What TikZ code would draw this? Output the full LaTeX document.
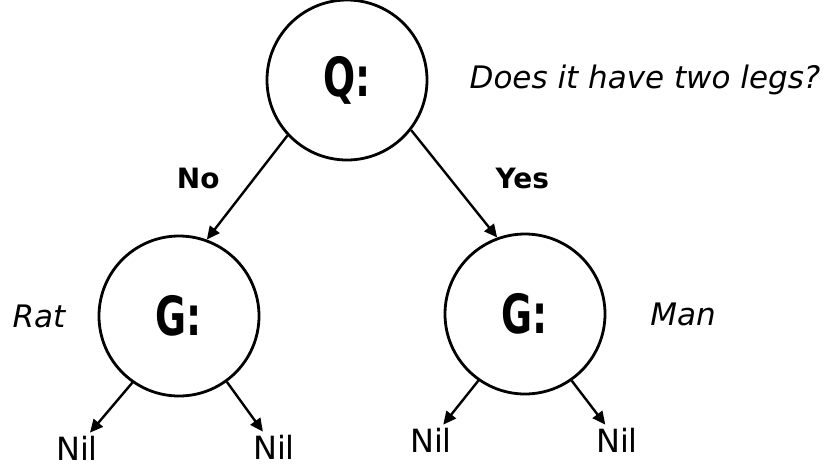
\documentclass[tikz,border=0pt]{standalone}
\usepackage{fontspec}
\usepackage{graphicx}
\setmainfont{DejaVu Sans}
\usetikzlibrary{arrows.meta,positioning}

\begin{document}
\begin{tikzpicture}[x=1pt,y=1pt,on grid,auto,line width=2.4pt,
    >={Triangle[length=13pt,width=12pt]},
    tnode/.style={circle, draw, line width=2.8pt, minimum size=160pt, inner sep=0pt,
      font=\fontsize{54}{54}\selectfont\bfseries},
    leaf/.style={inner sep=2pt, font=\fontsize{32}{32}\selectfont},
    note/.style={font=\fontsize{31}{31}\selectfont\itshape},
    ans/.style={font=\fontsize{28}{28}\selectfont\bfseries}]
   \useasboundingbox (0,0) rectangle (837,-467);

   \node[tnode] (q) at (347,-80) {\scalebox{0.7}[1]{Q:}};
   \node[tnode] (gl) [below left=236pt and 168pt of q]  {\scalebox{0.7}[1]{G:}};
   \node[tnode] (gr) [below right=234pt and 178pt of q] {\scalebox{0.7}[1]{G:}};

   \node[note] (legs) [right=298pt of q]  {Does it have two legs?};
   \node[note] (rat)  [left=140pt of gl]  {Rat};
   \node[note] (man)  [right=158pt of gr] {Man};

   \node[leaf] (nil_1) [below left=132pt and 102pt of gl]  {Nil};
   \node[leaf] (nil_2) [below right=131pt and 95pt of gl]  {Nil};
   \node[leaf] (nil_3) [below left=126pt and 94pt of gr]   {Nil};
   \node[leaf] (nil_4) [below right=126pt and 92pt of gr]  {Nil};

    \path[->]
    (q.223)  edge node[ans, left=23pt, yshift=9pt]  {No}  (gl.70)
    (q.322)  edge node[ans, right=37pt, yshift=5pt] {Yes} (gr.110)

    (gl.235) edge (nil_1)
    (gl.306) edge (nil_2)

    (gr.235) edge (nil_3)
    (gr.305) edge (nil_4);
\end{tikzpicture}
\end{document}
